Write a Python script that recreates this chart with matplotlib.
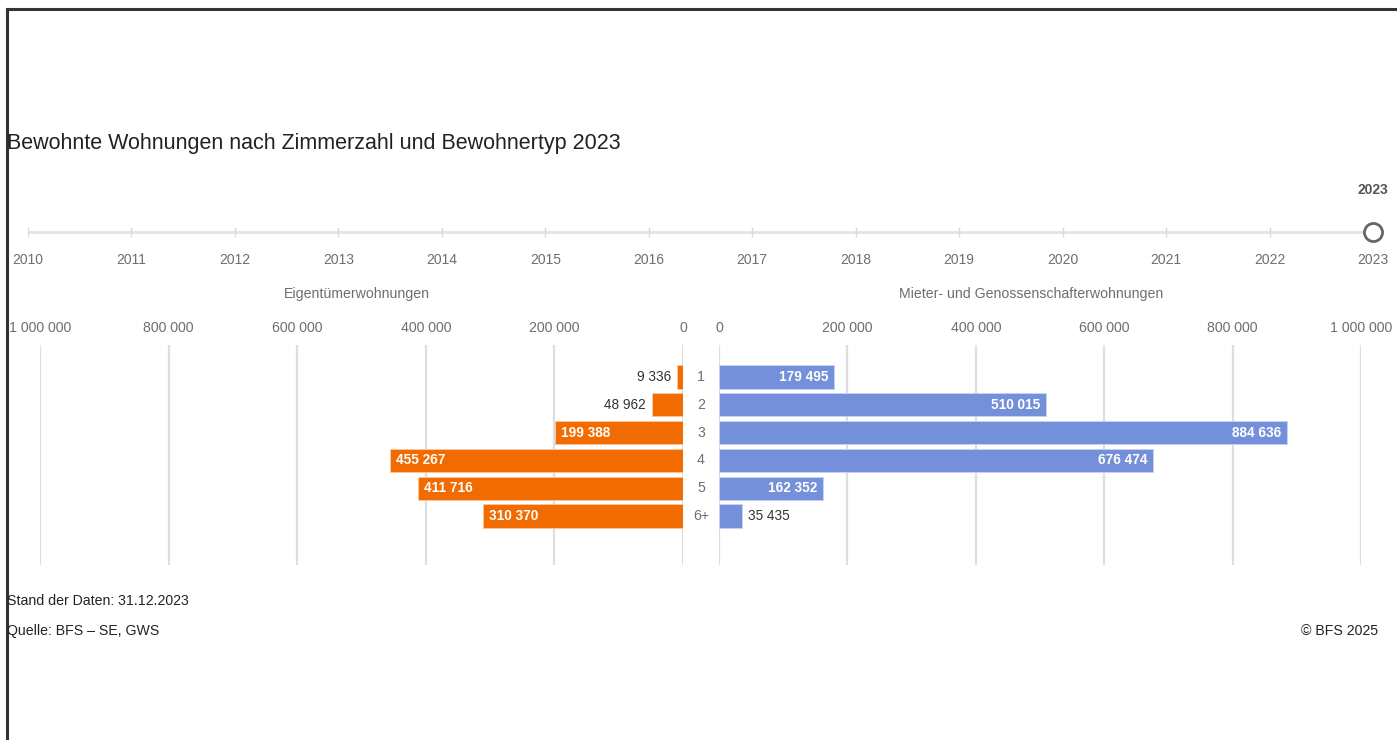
import matplotlib
matplotlib.use('Agg')
import matplotlib.pyplot as plt
from matplotlib.ticker import FixedLocator, FuncFormatter

# data
rooms = ['1', '2', '3', '4', '5', '6+']
owner = [9336, 48962, 199388, 455267, 411716, 310370]
tenant = [179495, 510015, 884636, 676474, 162352, 35435]
years = list(range(2010, 2024))
selected_year = 2023
ticks = [0, 200000, 400000, 600000, 800000, 1000000]

orange = '#F26B00'
blue = '#7590DA'
grid_col = '#DEDEDE'
label_col = '#6E6E6E'
plt.rcParams['font.family'] = ['Liberation Sans', 'DejaVu Sans']

W, H = 1397, 740
fig = plt.figure(figsize=(W / 100, H / 100), dpi=100)

def box(x0, y0, x1, y1):
    # pixel box -> figure fraction
    return [x0 / W, 1 - y1 / H, (x1 - x0) / W, (y1 - y0) / H]

def fmt(v):
    return f'{int(v):,}'.replace(',', ' ')

# frame lines (left and top)
fig.add_artist(plt.Line2D([6.5 / W, 6.5 / W], [0, 1 - 9 / H], color='#333333', lw=2.2))
fig.add_artist(plt.Line2D([6.5 / W, 1], [1 - 9 / H, 1 - 9 / H], color='#333333', lw=2.2))

fig.text(7 / W, 1 - 144 / H, 'Bewohnte Wohnungen nach Zimmerzahl und Bewohnertyp 2023',
         fontsize=15.5, color='#222222', va='center', ha='left')

# timeline slider
tl = fig.add_axes(box(28, 212, 1373, 252))
tl.set_xlim(years[0], years[-1])
tl.set_ylim(-1, 1)
tl.axis('off')
tl.axhline(0, color='#E3E3E3', lw=2, zorder=1)
for yr in years:
    tl.plot([yr, yr], [-0.2, 0.2], color='#DADADA', lw=1, zorder=1)
    tl.text(yr, -1.4, str(yr), ha='center', va='center', fontsize=10, color=label_col)
tl.plot([selected_year], [0], 'o', ms=13, mfc='white', mec='#666666', mew=2, zorder=3,
        clip_on=False)
tl.text(selected_year, 2.1, str(selected_year), ha='center', va='center', fontsize=10,
        color='#555555', fontweight='bold')

n = len(rooms)
ypos = list(range(n))

def setup(ax, inverted):
    if inverted:
        ax.set_xlim(1000000, 0)
    else:
        ax.set_xlim(0, 1000000)
    ax.set_ylim(n - 1 + 1.76, -1.15)
    for s in ax.spines.values():
        s.set_visible(False)
    ax.xaxis.tick_top()
    ax.xaxis.set_major_locator(FixedLocator(ticks))
    ax.xaxis.set_major_formatter(FuncFormatter(lambda v, p: fmt(v)))
    ax.tick_params(axis='x', length=0, pad=7, labelsize=10.2, labelcolor=label_col)
    ax.set_yticks([])
    ax.grid(axis='x', color=grid_col, lw=1.6)
    ax.set_axisbelow(True)
    ax.patch.set_alpha(0)

axl = fig.add_axes(box(40, 345, 683, 565))
axr = fig.add_axes(box(719, 345, 1361, 565))
setup(axl, True)
setup(axr, False)

axl.barh(ypos, owner, height=0.84, color=orange, edgecolor='#FBC9A0', lw=0.6, zorder=2)
axr.barh(ypos, tenant, height=0.84, color=blue, edgecolor='#C9D4F2', lw=0.6, zorder=2)

for y, v in zip(ypos, owner):
    if v > 150000:
        axl.text(v - 9000, y, fmt(v), ha='left', va='center', fontsize=9.8,
                 color='white', fontweight='bold', zorder=3)
    else:
        axl.text(v + 9000, y, fmt(v), ha='right', va='center', fontsize=9.8,
                 color='#333333', zorder=3)
for y, v in zip(ypos, tenant):
    if v > 150000:
        axr.text(v - 9000, y, fmt(v), ha='right', va='center', fontsize=9.8,
                 color='white', fontweight='bold', zorder=3)
    else:
        axr.text(v + 9000, y, fmt(v), ha='left', va='center', fontsize=9.8,
                 color='#333333', zorder=3)

# category labels in the middle
for y, r in zip(ypos, rooms):
    axl.text(-28000, y, r, ha='center', va='center', fontsize=10.2, color=label_col,
             clip_on=False)

fig.text(357 / W, 1 - 294 / H, 'Eigentümerwohnungen', ha='center', va='center',
         fontsize=10.2, color=label_col)
fig.text(1031 / W, 1 - 294 / H, 'Mieter- und Genossenschafterwohnungen', ha='center',
         va='center', fontsize=10.2, color=label_col)

fig.text(7 / W, 1 - 601 / H, 'Stand der Daten: 31.12.2023', ha='left', va='center',
         fontsize=10.2, color='#222222')
fig.text(7 / W, 1 - 631 / H, 'Quelle: BFS – SE, GWS', ha='left', va='center',
         fontsize=10.2, color='#222222')
fig.text(1378 / W, 1 - 631 / H, '© BFS 2025', ha='right', va='center',
         fontsize=10.2, color='#222222')

fig.savefig('out.png', dpi=100)
